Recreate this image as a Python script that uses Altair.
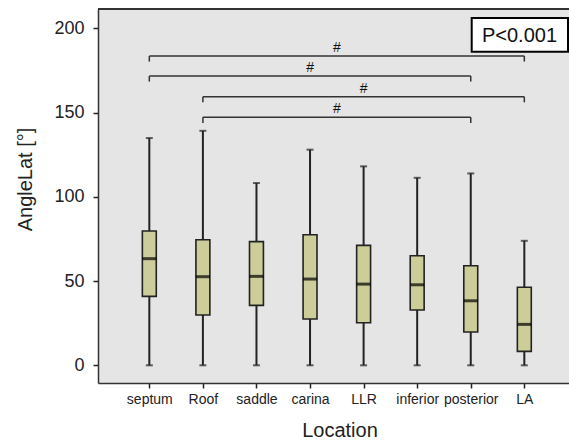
import altair as alt
import pandas as pd

categories = ["septum", "Roof", "saddle", "carina", "LLR", "inferior", "posterior", "LA"]
whisker_low = [0, 0, 0, 0, 0, 0, 0, 0]
q1 = [40.9, 29.9, 35.6, 27.5, 25.3, 32.8, 19.8, 8.3]
median = [63.3, 52.6, 52.8, 51.2, 48.2, 47.8, 38.3, 24.3]
q3 = [79.7, 74.5, 73.4, 77.5, 71.2, 65.0, 59.1, 46.3]
whisker_high = [134.9, 139.2, 108.2, 128.0, 118.1, 111.3, 113.9, 73.9]

bracket_from = ["septum", "septum", "Roof", "Roof"]
bracket_to = ["LA", "posterior", "LA", "posterior"]
bracket_level = [183.6, 171.7, 159.4, 147.2]
bracket_label = ["#", "#", "#", "#"]
p_text = "P<0.001"

FONT = "Liberation Sans"
DARK = "#222222"
W, H = 471, 374

df = pd.DataFrame({
    "cat": categories,
    "idx": list(range(len(categories))),
    "lo": whisker_low, "q1": q1, "med": median, "q3": q3, "hi": whisker_high,
})
br = pd.DataFrame({
    "a": [categories.index(c) for c in bracket_from],
    "b": [categories.index(c) for c in bracket_to],
    "lvl": bracket_level,
    "lab": bracket_label,
})

label_expr = "[" + ",".join("'%s'" % c for c in categories) + "][datum.value]"

xscale = alt.Scale(domain=[-0.958, 7.834], nice=False, zero=False)
yscale = alt.Scale(domain=[-10.5, 211.5], nice=False, zero=False)

xaxis = alt.Axis(values=list(range(len(categories))), labelExpr=label_expr, grid=False,
                 title="Location", titleFontSize=20, titleFont=FONT, titleFontWeight="normal",
                 titleColor=DARK, titleX=241.5, titleY=47, titleAlign="center", titleBaseline="middle",
                 labelFont=FONT, labelFontSize=14, labelColor=DARK, labelPadding=4,
                 tickSize=5, tickWidth=1.5, tickColor=DARK, domainColor="#333333", domainWidth=1.5)
yaxis = alt.Axis(values=[0, 50, 100, 150, 200], grid=False,
                 title="AngleLat [°]", titleFontSize=20, titleFont=FONT, titleFontWeight="normal",
                 titleColor=DARK, titleX=-73, titleY=170, titleAlign="center", titleBaseline="middle",
                 titleAngle=270,
                 labelFont=FONT, labelFontSize=18, labelColor=DARK, labelPadding=9,
                 tickSize=5, tickWidth=1.5, tickColor=DARK, domainColor="#333333", domainWidth=1.5)

base = alt.Chart(df)

whiskers = base.mark_rule(color=DARK, strokeWidth=2).encode(
    x=alt.X("idx:Q", scale=xscale, axis=xaxis),
    y=alt.Y("lo:Q", scale=yscale, axis=yaxis),
    y2="hi:Q",
)
caps_hi = base.mark_tick(orient="horizontal", size=7, thickness=2, color=DARK).encode(
    x="idx:Q", y="hi:Q")
caps_lo = base.mark_tick(orient="horizontal", size=7, thickness=2, color=DARK).encode(
    x="idx:Q", y="lo:Q")
boxes = base.transform_calculate(
    xl="datum.idx - 0.13", xr="datum.idx + 0.13"
).mark_rect(fill="#cdcd99", stroke=DARK, strokeWidth=1.6).encode(
    x="xl:Q", x2="xr:Q", y="q1:Q", y2="q3:Q")
meds = base.mark_tick(orient="horizontal", size=14, thickness=3, color="#000000").encode(
    x="idx:Q", y="med:Q")

bbase = alt.Chart(br).transform_calculate(drop="datum.lvl - 3.3", mid="(datum.a + datum.b) / 2")
bh = bbase.mark_rule(color="#333333", strokeWidth=1.5).encode(x="a:Q", x2="b:Q", y="lvl:Q")
bl = bbase.mark_rule(color="#333333", strokeWidth=1.5).encode(x="a:Q", y="lvl:Q", y2="drop:Q")
brr = bbase.mark_rule(color="#333333", strokeWidth=1.5).encode(x="b:Q", y="lvl:Q", y2="drop:Q")
btxt = bbase.mark_text(font=FONT, fontSize=14, color="#111111", dy=-8, baseline="middle").encode(
    x="mid:Q", y="lvl:Q", text="lab:N")

topline = alt.Chart(df).mark_rule(color="#333333", strokeWidth=1.5).encode(
    x=alt.value(0), x2=alt.value(W), y=alt.value(0))

pbox = alt.Chart(pd.DataFrame({"t": [p_text]})).mark_rect(
    fill="white", stroke="#000000", strokeWidth=2).encode(
    x=alt.value(373.7), x2=alt.value(470), y=alt.value(9), y2=alt.value(42.7))
ptxt = alt.Chart(pd.DataFrame({"t": [p_text]})).mark_text(
    font=FONT, fontSize=20, color="#111111", baseline="middle", align="center").encode(
    x=alt.value(421.5), y=alt.value(26.5), text="t:N")

chart = alt.layer(
    whiskers, caps_hi, caps_lo, boxes, meds, bh, bl, brr, btxt, topline, pbox, ptxt
).properties(
    width=W, height=H,
    autosize=alt.AutoSizeParams(type="none"),
    padding={"left": 98, "top": 9, "right": 0, "bottom": 57},
    background="white",
).configure_view(fill="#e5e5e5", stroke="transparent")

chart.save("out.html", embed_options={"renderer": "svg", "actions": False})
